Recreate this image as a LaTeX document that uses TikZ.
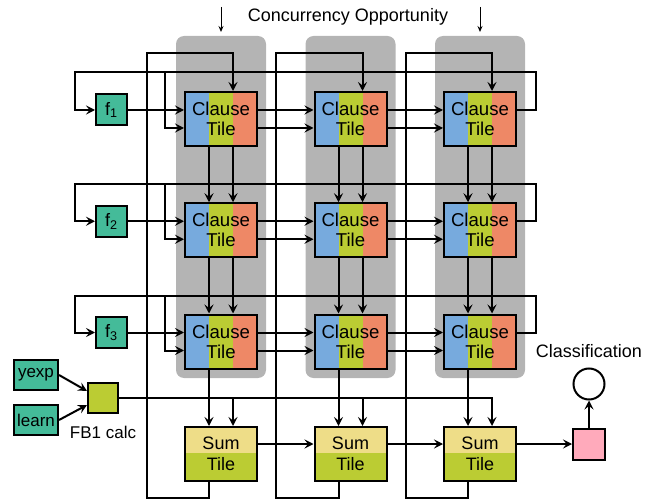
\documentclass[tikz,border=0pt]{standalone}
\usepackage{fontspec}
\setmainfont{Liberation Sans}
\usetikzlibrary{arrows.meta}
\definecolor{tblue}{HTML}{77AADD}
\definecolor{tgreen}{HTML}{BBCC33}
\definecolor{torange}{HTML}{EE8866}
\definecolor{tteal}{HTML}{44BB99}
\definecolor{tyellow}{HTML}{EEDD88}
\definecolor{tpink}{HTML}{FFAABB}
\definecolor{tgray}{HTML}{B4B4B4}
\begin{document}
\begin{tikzpicture}[x=1pt,y=-1pt,line width=2pt,
  arr/.style={-{Stealth[length=9pt,width=9pt,inset=3.5pt]}},
  thinarr/.style={line width=1pt,-{Stealth[length=6pt,width=5pt,inset=2pt]}},
  grayband/.style={fill=tgray,rounded corners=8pt,minimum width=90pt,minimum height=342pt,inner sep=0pt},
  clause/.style={draw,line width=2pt,minimum width=72pt,minimum height=54pt,inner sep=0pt,align=center,
    font=\fontsize{18.6}{20}\selectfont,
    path picture={
      \fill[tblue] (path picture bounding box.south west) rectangle ([xshift=24pt]path picture bounding box.north west);
      \fill[tgreen] ([xshift=24pt]path picture bounding box.south west) rectangle ([xshift=48pt]path picture bounding box.north west);
      \fill[torange] ([xshift=48pt]path picture bounding box.south west) rectangle (path picture bounding box.north east);}},
  sumtile/.style={draw,line width=2pt,minimum width=72pt,minimum height=54pt,inner sep=0pt,align=center,
    font=\fontsize{18}{21}\selectfont,
    path picture={
      \fill[tgreen] (path picture bounding box.south west) rectangle (path picture bounding box.north east);
      \fill[tyellow] (path picture bounding box.north west) rectangle ([yshift=-26pt]path picture bounding box.north east);}},
  fbox/.style={draw,fill=tteal,minimum width=31pt,minimum height=31pt,inner sep=0pt,font=\fontsize{18}{20}\selectfont},
  inbox/.style={draw,fill=tteal,minimum width=44pt,minimum height=30pt,inner sep=0pt,font=\fontsize{17}{20}\selectfont},
  lbl/.style={font=\fontsize{18}{20}\selectfont,inner sep=0pt}
]
\useasboundingbox (0,0) rectangle (654,500);

% gray concurrency bands
\node[grayband] (g1) at (221,207) {};
\node[grayband] (g2) at (350.5,207) {};
\node[grayband] (g3) at (480,207) {};

% clause tiles
\foreach \c/\x in {1/221,2/350.5,3/480}{
  \foreach \r/\y in {1/119,2/230.25,3/341.5}{
    \node[clause] (c\r\c) at (\x,\y) {Clause\\Tile};
  }
  \node[sumtile] (s\c) at (\x,454) {Sum\\Tile};
}

% f nodes
\node[fbox] (f1) at (111.5,110) {f\textsubscript{1}};
\node[fbox] (f2) at (111.5,221.25) {f\textsubscript{2}};
\node[fbox] (f3) at (111.5,332.5) {f\textsubscript{3}};

% inputs
\node[inbox] (yexp) at (36,375) {yexp};
\node[inbox] (learn) at (36,420) {learn};
\node[draw,fill=tgreen,minimum width=30pt,minimum height=30pt,inner sep=0pt] (fb) at (103,398) {};
\node[lbl,font=\fontsize{17}{20}\selectfont] (fblabel) at (103,432) {FB1 calc};

% output
\node[draw,fill=tpink,minimum width=32pt,minimum height=31pt,inner sep=0pt] (pink) at (589,444) {};
\node[draw,circle,fill=white,minimum size=31pt,inner sep=0pt] (cls) at (589,384) {};
\node[lbl] (clslabel) at (589,351) {Classification};

% concurrency label
\node[lbl] (conc) at (348,17) {Concurrency Opportunity};
\draw[thinarr] ([yshift=28pt]g1.north) -- ([yshift=3pt]g1.north);
\draw[thinarr] ([yshift=28pt]g3.north) -- ([yshift=3pt]g3.north);

% horizontal tile-to-tile connections
\foreach \r in {1,2,3}{
  \draw[arr] ([yshift=9pt]c\r1.east) -- ([yshift=9pt]c\r2.west);
  \draw[arr] ([yshift=-9pt]c\r1.east) -- ([yshift=-9pt]c\r2.west);
  \draw[arr] ([yshift=9pt]c\r2.east) -- ([yshift=9pt]c\r3.west);
  \draw[arr] ([yshift=-9pt]c\r2.east) -- ([yshift=-9pt]c\r3.west);
  \draw[arr] (f\r.east) -- (f\r.east -| c\r1.west);
}

% vertical connections
\foreach \c in {1,2,3}{
  \draw[arr] ([xshift=-12pt]c1\c.south) -- ([xshift=-12pt]c2\c.north);
  \draw[arr] ([xshift=12pt]c1\c.south) -- ([xshift=12pt]c2\c.north);
  \draw[arr] ([xshift=-12pt]c2\c.south) -- ([xshift=-12pt]c3\c.north);
  \draw[arr] ([xshift=12pt]c2\c.south) -- ([xshift=12pt]c3\c.north);
  \draw[arr] ([xshift=-12pt]c3\c.south) -- ([xshift=-12pt]s\c.north);
}

% row feedback loops
\draw[arr] ([yshift=9pt]c13.east) -| (536,72) -| ([xshift=-20pt]f1.west) -- (f1.west);
\draw[arr] (165,72) |- ([yshift=-9pt]c11.west);
\draw[arr] ([yshift=9pt]c23.east) -| (536,184) -| ([xshift=-20pt]f2.west) -- (f2.west);
\draw[arr] (165,184) |- ([yshift=-9pt]c21.west);
\draw[arr] ([yshift=9pt]c33.east) -| (536,296) -| ([xshift=-20pt]f3.west) -- (f3.west);
\draw[arr] (165,296) |- ([yshift=-9pt]c31.west);

% column loops from sum tiles back to first row
\draw[arr] ([xshift=-12pt]s1.south) |- (147,498) -- (147,53) -| ([xshift=12pt]c11.north);
\draw[arr] ([xshift=-12pt]s2.south) |- (276,498) -- (276,53) -| ([xshift=12pt]c12.north);
\draw[arr] ([xshift=-12pt]s3.south) |- (406,498) -- (406,53) -| ([xshift=12pt]c13.north);

% FB1 calc
\draw[arr] (yexp.east) -- ([yshift=7pt]fb.west);
\draw[arr] (learn.east) -- ([yshift=-7pt]fb.west);
\coordinate (s1in) at ([xshift=12pt]s1.north);
\coordinate (s2in) at ([xshift=12pt]s2.north);
\draw[arr] (fb.east) -| ([xshift=12pt]s3.north);
\draw[arr] (fb.east -| s1in) -- (s1in);
\draw[arr] (fb.east -| s2in) -- (s2in);

% sum chain
\draw[arr] ([yshift=10pt]s1.east) -- ([yshift=10pt]s2.west);
\draw[arr] ([yshift=10pt]s2.east) -- ([yshift=10pt]s3.west);
\draw[arr] ([yshift=10pt]s3.east) -- (pink.west);
\draw[arr] (pink.north) -- (cls.south);
\end{tikzpicture}
\end{document}
